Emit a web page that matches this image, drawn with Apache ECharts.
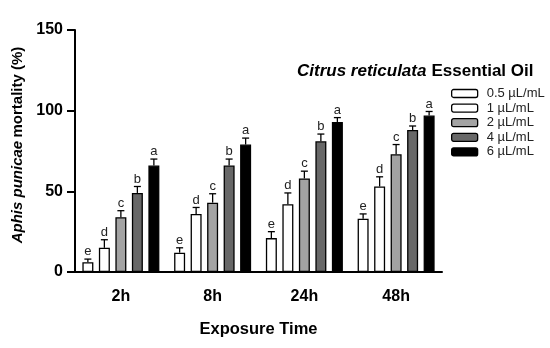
<!DOCTYPE html>
<html>
<head>
<meta charset="utf-8">
<script src="https://cdn.jsdelivr.net/npm/echarts@6/dist/echarts.min.js"></script>
<style>html,body{margin:0;padding:0;background:#fff}#c{width:550px;height:348px}</style>
</head>
<body>
<div id="c"></div>
<script>
const categories = ['2h', '8h', '24h', '48h'];
const doseNames = ['0.5 µL/mL', '1 µL/mL', '2 µL/mL', '4 µL/mL', '6 µL/mL'];
const yTicks = [0, 50, 100, 150];

const mort05 = [6, 12, 21, 33];
const mort1  = [15, 36, 42, 53];
const mort2  = [34, 43, 58, 73];
const mort4  = [49, 66, 81, 88];
const mort6  = [66, 79, 93, 97];

const err05 = [2, 3, 4, 3];
const err1  = [5, 4, 7, 6];
const err2  = [4, 5.5, 4.5, 6];
const err4  = [4, 4, 4.5, 2.5];
const err6  = [4, 4, 2.7, 2.5];

const letters05 = ['e', 'e', 'e', 'e'];
const letters1  = ['d', 'd', 'd', 'd'];
const letters2  = ['c', 'c', 'c', 'c'];
const letters4  = ['b', 'b', 'b', 'b'];
const letters6  = ['a', 'a', 'a', 'a'];

const values = [mort05, mort1, mort2, mort4, mort6];
const errors = [err05, err1, err2, err4, err6];
const letters = [letters05, letters1, letters2, letters4, letters6];
const colors = ['#ffffff', '#ffffff', '#a3a3a3', '#686868', '#000000'];

const BAR_W = 11;
const PITCH = 16.5;
const FONT = 'Liberation Sans, Arial, sans-serif';

const series = [];
doseNames.forEach((name, k) => {
  series.push({
    name: name,
    type: 'bar',
    barWidth: BAR_W,
    barGap: '50%',
    data: values[k],
    itemStyle: { color: colors[k], borderColor: '#000', borderWidth: 1.3 },
    emphasis: { disabled: true },
    z: 2
  });
});
doseNames.forEach((name, k) => {
  series.push({
    name: 'err' + k,
    type: 'custom',
    data: categories.map((c, i) => [i, values[k][i], errors[k][i]]),
    z: 3,
    renderItem: function (params, api) {
      const idx = api.value(0);
      const v = api.value(1);
      const e = api.value(2);
      const base = api.coord([idx, v]);
      const top = api.coord([idx, v + e]);
      const x = base[0] + (k - 2) * PITCH;
      return {
        type: 'group',
        children: [
          { type: 'line', shape: { x1: x, y1: base[1], x2: x, y2: top[1] }, style: { stroke: '#000', lineWidth: 1.3 } },
          { type: 'line', shape: { x1: x - 3.5, y1: top[1], x2: x + 3.5, y2: top[1] }, style: { stroke: '#000', lineWidth: 1.3 } },
          { type: 'text', x: x, y: top[1] - 1, style: { text: letters[k][params.dataIndex], fill: '#222', font: '13px ' + FONT, align: 'center', verticalAlign: 'bottom' } }
        ]
      };
    }
  });
});

const chart = echarts.init(document.getElementById('c'), null, { renderer: 'canvas' });
chart.setOption({
  animation: false,
  backgroundColor: '#fff',
  textStyle: { fontFamily: FONT },
  title: {
    text: '{i|Citrus reticulata} {b|Essential Oil}',
    left: 292, top: 57,
    textStyle: {
      rich: {
        i: { fontSize: 17, fontWeight: 'bold', fontStyle: 'italic', color: '#000', fontFamily: FONT },
        b: { fontSize: 17, fontWeight: 'bold', color: '#000', fontFamily: FONT }
      }
    }
  },
  legend: {
    data: doseNames,
    orient: 'vertical',
    left: 446, top: 82,
    itemWidth: 26, itemHeight: 8, itemGap: 1.6,
    selectedMode: false,
    textStyle: { fontSize: 13, color: '#222', fontFamily: FONT, padding: [0, 0, 0, 4] },
    itemStyle: { borderColor: '#000', borderWidth: 1.3 }
  },
  grid: { left: 75, top: 30, width: 367, height: 242, containLabel: false },
  xAxis: {
    type: 'category',
    data: categories,
    axisLine: { lineStyle: { color: '#000', width: 2 } },
    axisTick: { alignWithLabel: true, length: 7, lineStyle: { color: '#000', width: 2 } },
    axisLabel: { fontSize: 16, fontWeight: 'bold', color: '#000', margin: 17 },
    name: 'Exposure Time',
    nameLocation: 'middle',
    nameGap: 49,
    nameTextStyle: { fontSize: 16.5, fontWeight: 'bold', color: '#000' }
  },
  yAxis: {
    type: 'value',
    min: yTicks[0], max: yTicks[yTicks.length - 1], interval: 50,
    axisLine: { show: true, lineStyle: { color: '#000', width: 2 } },
    axisTick: { show: true, length: 8, lineStyle: { color: '#000', width: 2 } },
    axisLabel: { fontSize: 16, fontWeight: 'bold', color: '#000', margin: 12 },
    splitLine: { show: false },
    name: '{i|Aphis punicae} {n|mortality (%)}',
    nameLocation: 'middle',
    nameGap: 50,
    nameTextStyle: {
      padding: [0, 0, 0, 12],
      rich: {
        i: { fontSize: 15, fontWeight: 'bold', fontStyle: 'italic', color: '#000', fontFamily: FONT },
        n: { fontSize: 15, fontWeight: 'bold', color: '#000', fontFamily: FONT }
      }
    }
  },
  series: series
});
</script>
</body>
</html>
